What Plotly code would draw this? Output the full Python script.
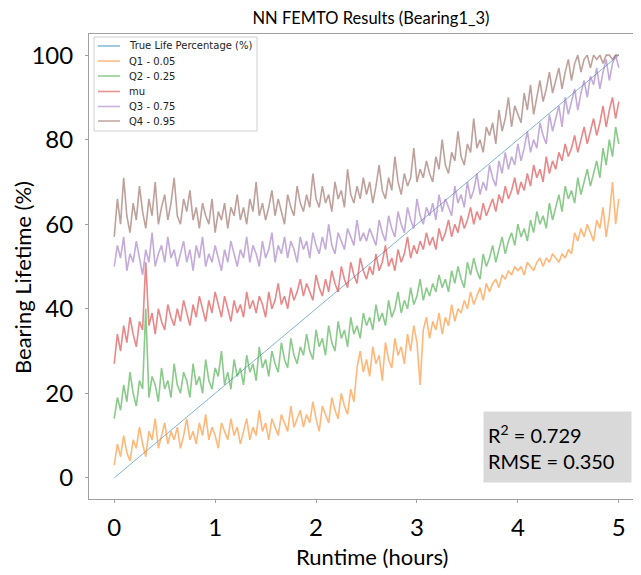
import numpy as np
import plotly.graph_objects as go

# sample clock (hours) for the predicted quantiles
runtime = np.linspace(0, 5, 161)

# true life percentage is a straight line from start to failure
true_runtime = [0, 5]
true_life = [0, 100]

q1_005 = [
    3, 8, 5, 10, 6, 4, 9, 7, 12, 8, 5, 11, 9, 14, 7, 10, 13, 8, 11, 9,
    12, 7, 10, 14, 9, 11, 8, 13, 10, 15, 9, 12, 10, 7, 13, 11, 9, 14, 10, 12,
    8, 11, 14, 9, 12, 10, 16, 11, 13, 9, 14, 12, 10, 15, 13, 11, 17, 12, 14, 16,
    12, 15, 13, 18, 14, 11, 17, 15, 13, 19, 16, 14, 20, 17, 15, 21, 18, 26, 30, 25,
    28, 24, 31, 27, 29, 23, 32, 28, 26, 33, 29, 31, 27, 34, 30, 36, 32, 22, 35, 38,
    33, 37, 35, 39, 34, 38, 36, 41, 37, 40, 39, 42, 40, 44, 41, 43, 45, 42, 46, 44,
    46, 47, 45, 48, 47, 49, 48, 50, 49, 50, 48, 51, 50, 49, 51, 52, 50, 52, 51, 53,
    52, 51, 53, 52, 54, 53, 58, 56, 59, 57, 60, 58, 56, 61, 59, 64, 57, 62, 70, 60, 66,
]
q2_025 = [
    14, 19, 16, 22, 18, 25, 20, 17, 23, 21, 40, 19, 24, 22, 18, 26, 21, 23, 19, 27,
    22, 20, 25, 23, 19, 27, 22, 24, 20, 28, 23, 21, 26, 24, 30, 22, 25, 21, 28, 24,
    26, 22, 29, 25, 27, 23, 31, 26, 28, 24, 30, 27, 25, 32, 28, 26, 33, 29, 27, 31,
    29, 34, 30, 28, 35, 31, 33, 29, 36, 32, 30, 37, 33, 35, 31, 38, 34, 36, 33, 39,
    36, 38, 35, 41, 37, 39, 36, 42, 38, 40, 44, 39, 42, 40, 45, 41, 43, 47, 42, 45,
    43, 46, 44, 48, 45, 47, 44, 49, 46, 50, 47, 45, 51, 48, 52, 49, 47, 53, 50, 52,
    55, 51, 54, 57, 53, 56, 58, 55, 60, 57, 59, 56, 61, 58, 63, 60, 62, 59, 65, 61,
    64, 67, 63, 69, 66, 68, 65, 71, 67, 70, 73, 69, 72, 75, 71, 78, 74, 80, 76, 83, 79,
]
mu = [
    27, 34, 30, 36, 32, 38, 34, 31, 37, 35, 51, 36, 39, 34, 40, 37, 35, 41, 38, 36,
    40, 37, 42, 39, 36, 41, 38, 43, 40, 37, 42, 39, 44, 41, 38, 43, 40, 37, 42, 39,
    41, 38, 44, 40, 42, 39, 43, 41, 38, 44, 40, 42, 46, 41, 43, 40, 45, 42, 44, 47,
    43, 46, 44, 42, 48, 45, 43, 47, 44, 49, 46, 44, 50, 47, 45, 51, 48, 46, 52, 49,
    47, 50, 48, 53, 49, 51, 55, 50, 52, 49, 54, 51, 53, 57, 52, 55, 53, 56, 54, 58,
    55, 57, 54, 59, 56, 58, 61, 57, 60, 58, 62, 59, 61, 64, 60, 63, 61, 65, 62, 64,
    66, 63, 67, 65, 69, 66, 68, 71, 67, 70, 68, 72, 69, 74, 71, 73, 70, 76, 72, 75,
    73, 77, 75, 79, 76, 78, 81, 77, 80, 83, 79, 82, 85, 81, 84, 88, 83, 87, 90, 85, 89,
]
q3_075 = [
    50, 55, 52, 57, 49, 53, 51, 56, 52, 48, 54, 51, 58, 50, 53, 55, 51, 57, 52, 54,
    50, 53, 56, 51, 54, 49, 55, 52, 57, 50, 53, 51, 55, 52, 49, 54, 51, 56, 53, 50,
    54, 52, 57, 51, 55, 53, 50, 56, 52, 54, 58, 51, 55, 53, 57, 52, 56, 54, 51, 57,
    54, 56, 52, 58, 55, 53, 57, 54, 60, 55, 53, 58, 56, 54, 59, 57, 55, 61, 56, 58,
    56, 59, 57, 55, 61, 58, 56, 62, 59, 57, 63, 60, 58, 64, 61, 59, 66, 62, 60, 64,
    62, 65, 61, 67, 63, 66, 64, 62, 69, 65, 67, 64, 70, 66, 68, 72, 67, 70, 68, 74,
    71, 69, 75, 72, 77, 73, 76, 74, 79, 75, 78, 82, 77, 80, 78, 84, 81, 79, 86, 82,
    85, 88, 83, 90, 86, 89, 92, 87, 91, 94, 90, 95, 93, 97, 92, 96, 99, 94, 98, 100, 97,
]
q4_095 = [
    57, 66, 60, 71, 62, 58, 65, 61, 69, 63, 59, 66, 62, 70, 60, 64, 67, 61, 65, 71,
    62, 60, 66, 63, 68, 61, 64, 59, 65, 62, 60, 66, 58, 63, 61, 65, 59, 64, 62, 67,
    61, 64, 60, 66, 63, 70, 62, 65, 61, 64, 68, 62, 66, 63, 60, 67, 64, 62, 69, 65,
    63, 67, 64, 72, 66, 64, 69, 65, 67, 63, 70, 66, 68, 64, 73, 67, 65, 69, 66, 71,
    67, 70, 65, 69, 74, 68, 66, 71, 68, 76, 70, 67, 72, 69, 71, 78, 70, 73, 71, 75,
    72, 70, 76, 73, 80, 74, 72, 77, 75, 82, 76, 74, 79, 77, 85, 78, 80, 77, 83, 81,
    84, 79, 87, 82, 85, 90, 83, 88, 86, 84, 91, 87, 93, 86, 90, 94, 89, 92, 96, 91,
    94, 97, 92, 96, 99, 94, 98, 100, 96, 99, 100, 97, 100, 99, 100, 98, 100, 100, 99, 100, 100,
]

r2 = 0.729
rmse = 0.350

FONT = "Lato"
# the page body adds an 8px margin, so the figure is drawn 8px smaller
# and every placement below is given in window pixels minus that offset
OFF = 8
W, H = 641 - OFF, 575 - OFF
ML, MR, MT, MB = 89 - OFF, 0, 34 - OFF, H - (499 - OFF)


# window pixel -> paper helpers (for legend box / stats box placement)
def px(x):
    return (x - OFF - ML) / (W - ML - MR)


def py(y):
    return (H - MB - (y - OFF)) / (H - MT - MB)


fig = go.Figure()

series = [
    ("True Life Percentage (%)", true_runtime, true_life, "#1f77b4", 1.0, 0.55),
    ("Q1 - 0.05", runtime, q1_005, "#ff7f0e", 1.6, 0.55),
    ("Q2 - 0.25", runtime, q2_025, "#2ca02c", 1.6, 0.55),
    ("mu", runtime, mu, "#d62728", 1.6, 0.55),
    ("Q3 - 0.75", runtime, q3_075, "#9467bd", 1.6, 0.55),
    ("Q4 - 0.95", runtime, q4_095, "#8c564b", 1.6, 0.55),
]
for name, xs, ys, col, lw, op in series:
    fig.add_trace(go.Scatter(x=xs, y=ys, mode="lines", name=name,
                             line=dict(color=col, width=lw), opacity=op,
                             showlegend=False))

# matplotlib-style legend (tighter row spacing than plotly's own)
fig.add_shape(type="rect", xref="paper", yref="paper",
              x0=px(94), x1=px(257), y0=py(131), y1=py(37),
              line=dict(color="#d0d0d0", width=1), fillcolor="white", layer="above")
row_y = [46, 61, 76, 91.5, 106.5, 121]
for (name, _, _, col, _, _), ry in zip(series, row_y):
    fig.add_shape(type="line", xref="paper", yref="paper",
                  x0=px(98), x1=px(120), y0=py(ry), y1=py(ry),
                  line=dict(color=col, width=1.6), opacity=0.5, layer="above")
    fig.add_annotation(xref="paper", yref="paper", x=px(127), y=py(ry),
                       xanchor="left", yanchor="middle", text=name, showarrow=False,
                       font=dict(family="DejaVu Sans", size=10, color="#222222"))

axis_style = dict(showline=True, linecolor="#a0a0a0", linewidth=1, mirror=True,
                  ticks="outside", ticklen=3, tickcolor="#a0a0a0",
                  showgrid=False, zeroline=False, automargin=False,
                  tickfont=dict(family=FONT, size=24, color="black"))

fig.update_xaxes(range=[-0.25, 5.22], tickvals=[0, 1, 2, 3, 4, 5],
                 ticklabelstandoff=4, **axis_style)
fig.update_yaxes(range=[-5, 105], tickvals=[0, 20, 40, 60, 80, 100],
                 ticklabelstandoff=7, **axis_style)

# axis titles
fig.add_annotation(xref="paper", yref="paper", x=px(372), y=py(556),
                   xanchor="center", yanchor="middle", text="Runtime (hours)",
                   showarrow=False, font=dict(family=FONT, size=22, color="black"))
fig.add_annotation(xref="paper", yref="paper", x=px(22), y=py(278),
                   xanchor="center", yanchor="middle", text="Bearing Lifetime (%)",
                   textangle=-90, showarrow=False,
                   font=dict(family=FONT, size=22, color="black"))

fig.add_annotation(xref="paper", yref="paper", x=px(632), y=py(483),
                   xanchor="right", yanchor="bottom",
                   text="R<sup>2</sup> = %.3f<br>RMSE = %.3f" % (r2, rmse),
                   showarrow=False, align="left", bgcolor="#d9d9d9",
                   width=139, height=62, borderpad=4,
                   font=dict(family=FONT, size=20, color="black"))

fig.update_layout(
    width=W, height=H,
    margin=dict(l=ML, r=MR, t=MT, b=MB),
    paper_bgcolor="white", plot_bgcolor="white",
    title=dict(text="NN FEMTO Results (Bearing1_3)", x=(371 - OFF) / W, xanchor="center",
               y=1 - (18.5 - OFF) / H, yanchor="middle",
               font=dict(family=FONT, size=16.5, color="black")),
    showlegend=False,
)

fig.write_html("out.html")
